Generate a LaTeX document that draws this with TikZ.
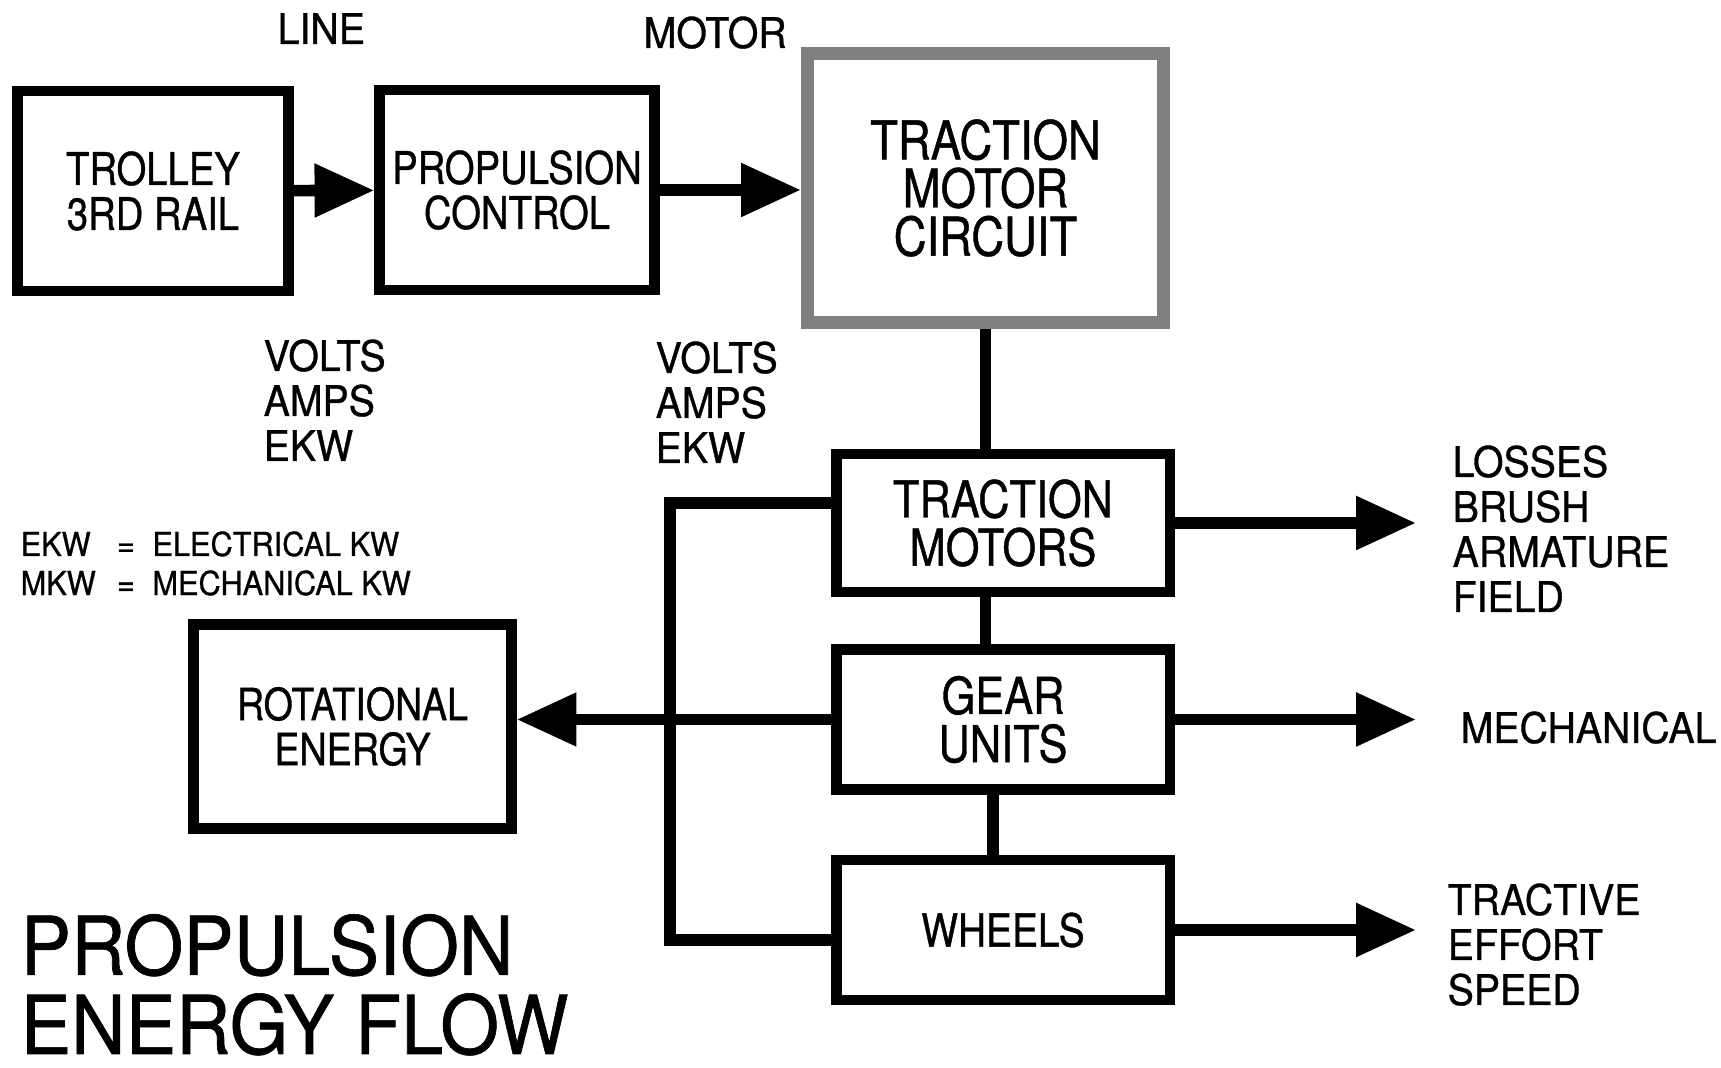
\documentclass[tikz,border=0pt]{standalone}
\usepackage{fontspec}
\setmainfont{TeX Gyre Heros}
\newfontfamily\boxfont[FakeStretch=0.85, FakeBold=0.8]{TeX Gyre Heros}
\newfontfamily\lblfont[FakeStretch=0.93, FakeBold=0.8]{TeX Gyre Heros}
\usetikzlibrary{arrows.meta,positioning,calc}

\begin{document}
\begin{tikzpicture}[
    x=0.01cm, y=-0.01cm,
    blk/.style={draw, line width=2.9pt, inner sep=0pt, align=center},
    arr/.style={-{Triangle[length=17pt, width=14.5pt]}, line width=3.3pt},
    con/.style={line width=3.3pt},
    lbl/.style={font=\lblfont\fontsize{12}{12.8}\selectfont, align=left, inner sep=0pt, text depth=0pt, anchor=base west}
]
\useasboundingbox (0,0) rectangle (1721,1068);

% supply side
\node[blk, minimum width=2.71cm, minimum height=2.0cm, font=\boxfont\fontsize{12.8}{12.8}\selectfont] (trolley) at (153,191) {TROLLEY\\3RD RAIL};
\node[blk, minimum width=2.75cm, minimum height=2.0cm, font=\boxfont\fontsize{12.8}{12.8}\selectfont] (propctl) at (517,190) {PROPULSION\\CONTROL};
\node[blk, draw=black!50, line width=3.7pt, minimum width=3.56cm, minimum height=2.69cm, font=\boxfont\fontsize{15.2}{13.7}\selectfont] (tmc) at (985.5,188) {TRACTION\\MOTOR\\CIRCUIT};

% drive train
\node[blk, minimum width=3.33cm, minimum height=1.38cm, font=\boxfont\fontsize{14.5}{13.7}\selectfont] (motors) at (1003,523) {TRACTION\\MOTORS};
\node[blk, minimum width=3.33cm, minimum height=1.40cm, font=\boxfont\fontsize{14.5}{13.7}\selectfont] (gears) at (1003,719.5) {GEAR\\UNITS};
\node[blk, minimum width=3.33cm, minimum height=1.40cm, font=\boxfont\fontsize{13}{13}\selectfont] (wheels) at (1003,930) {WHEELS};
\node[blk, minimum width=3.18cm, minimum height=2.04cm, font=\boxfont\fontsize{12.6}{12.8}\selectfont] (rotational) at (352.5,726.5) {ROTATIONAL\\ENERGY};

% free ends
\coordinate (lossend) at (1416,523);
\coordinate (mechend) at (1416,719.5);
\coordinate (tracend) at (1416,930);
\coordinate (bus) at (670,720);

\draw[arr] (trolley) -- (propctl);
\draw[arr] (propctl.east) -- (propctl.east -| tmc.west);
\draw[con] (tmc.south) -- (tmc.south |- motors.north);
\draw[con] (motors.south -| tmc.south) -- (gears.north -| tmc.south);
\draw[con] ($(gears.south)+(-10,0)$) -- ($(wheels.north)+(-10,0)$);
\draw[arr] (motors) -- (lossend);
\draw[arr] (gears) -- (mechend);
\draw[arr] (wheels) -- (tracend);
\draw[con] ($(motors.west)+(0,-20)$) -| (bus) |- ($(wheels.west)+(0,10)$);
\draw[arr] (gears.west) -- (gears.west -| rotational.east);

% labels (multi-line ones sit on their last baseline)
\node[lbl] (line) at (277,44) {LINE};
\node[lbl] (motor) at (643,48) {MOTOR};
\node[lbl] (linevals) at (263,461) {VOLTS\\AMPS\\EKW};
\node[lbl] (motorvals) at (655,463) {VOLTS\\AMPS\\EKW};
\node[lbl] (losses) at (1452,612) {LOSSES\\BRUSH\\ARMATURE\\FIELD};
\node[lbl] (mechanical) at (1460,743) {MECHANICAL};
\node[lbl] (tractive) at (1447,1005) {TRACTIVE\\EFFORT\\SPEED};
\node[lbl, font=\lblfont\fontsize{9.4}{11.1}\selectfont] (legend) at (20,556)
  {\begin{tabular}[t]{@{}l@{\hspace{6pt}}c@{\hspace{5pt}}l@{}}
   EKW & = & ELECTRICAL KW\\
   MKW & = & MECHANICAL KW
   \end{tabular}};
\node[lbl, font=\lblfont\fontsize{23.1}{22.5}\selectfont] (title) at (20,1054) {PROPULSION\\ENERGY FLOW};
\end{tikzpicture}
\end{document}
